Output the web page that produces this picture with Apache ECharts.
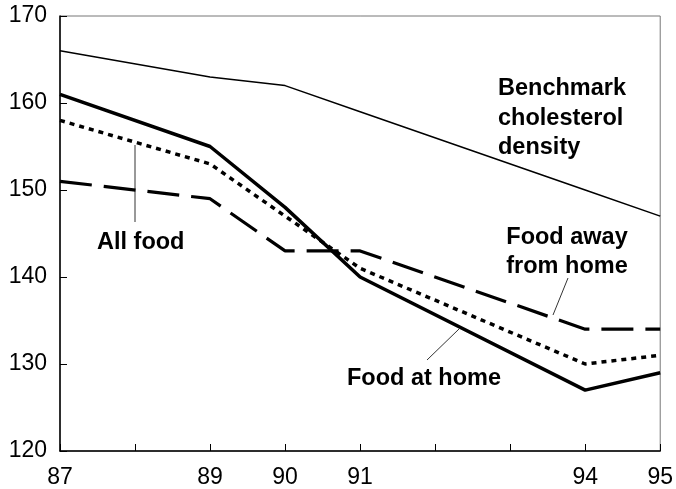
<!DOCTYPE html>
<html><head><meta charset="utf-8">
<script src="https://cdn.jsdelivr.net/npm/echarts@6/dist/echarts.min.js"></script>
<style>html,body{margin:0;padding:0;background:#fff}#c{width:676px;height:489px}</style>
</head><body><div id="c"></div>
<script>
const years = [87, 89, 90, 91, 94, 95];
const xTickLabels = ['87', '89', '90', '91', '94', '95'];
const benchmark = [166, 163, 162, 159, 150, 147];
const foodAtHome = [161, 155, 148, 140, 127, 129];
const allFood = [158, 153, 147, 141, 130, 131];
const foodAway = [151, 149, 143, 143, 134, 134];

const F = '"Liberation Sans", Arial, sans-serif';
const pairs = arr => years.map((y, i) => [y, arr[i]]);
const chart = echarts.init(document.getElementById('c'), null, {renderer: 'canvas'});
const txt = (x, y, t, align) => ({type: 'text', x: x, y: y,
  style: {text: t, font: 'bold 23.5px ' + F, fill: '#000', textAlign: align || 'left', textVerticalAlign: 'middle'}});
const leader = (x1, y1, x2, y2) => ({type: 'line', shape: {x1, y1, x2, y2}, style: {stroke: '#333', lineWidth: 1}});
chart.setOption({
  animation: false,
  grid: {left: 60, right: 14, top: 16, bottom: 38, show: true, borderColor: '#777', borderWidth: 1},
  xAxis: {
    type: 'value', min: 87, max: 95, interval: 1,
    axisLine: {lineStyle: {color: '#000', width: 1.5}},
    axisTick: {inside: true, length: 7, lineStyle: {color: '#000'}},
    splitLine: {show: false},
    axisLabel: {margin: 15, color: '#000', fontSize: 23, fontFamily: F,
      formatter: v => xTickLabels.includes(String(v)) ? String(v) : ''}
  },
  yAxis: {
    type: 'value', min: 120, max: 170, interval: 10,
    axisLine: {show: true, lineStyle: {color: '#000', width: 1.5}},
    axisTick: {show: true, inside: true, length: 7, lineStyle: {color: '#000'}},
    splitLine: {show: false},
    axisLabel: {margin: 13, color: '#000', fontSize: 23, fontFamily: F}
  },
  series: [
    {type: 'line', data: pairs(benchmark), symbol: 'none', lineStyle: {color: '#000', width: 1.5}},
    {type: 'line', data: pairs(foodAtHome), symbol: 'none', lineStyle: {color: '#000', width: 3.5}},
    {type: 'line', data: pairs(allFood), symbol: 'none', lineStyle: {color: '#000', width: 3.5, type: [5, 5]}},
    {type: 'line', data: pairs(foodAway), symbol: 'none', lineStyle: {color: '#000', width: 3.2, type: [32, 12]}}
  ],
  graphic: [
    txt(498, 89, 'Benchmark'),
    txt(498, 119, 'cholesterol'),
    txt(498, 148, 'density'),
    txt(97, 243, 'All food'),
    txt(567, 238, 'Food away', 'center'),
    txt(567, 267, 'from home', 'center'),
    txt(347, 379, 'Food at home'),
    leader(135, 145, 135, 222),
    leader(568, 278, 553, 315),
    leader(427, 360, 459, 329)
  ]
});
</script></body></html>
